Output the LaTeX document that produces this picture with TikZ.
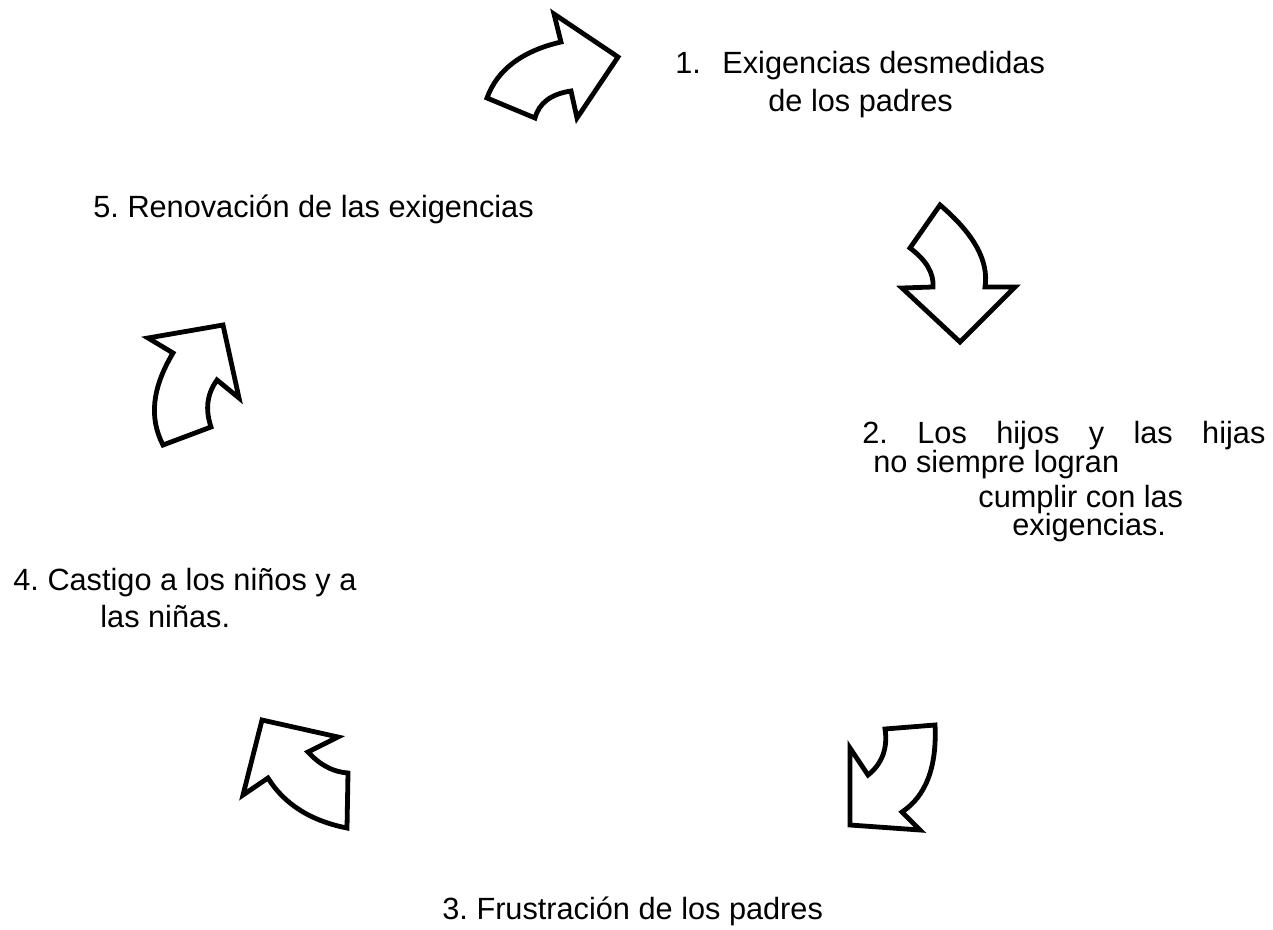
\documentclass[tikz,border=0pt]{standalone}
\usepackage{fontspec}
\setmainfont{Liberation Sans}
\frenchspacing
\begin{document}
\begin{tikzpicture}[x=0.5pt,y=-0.5pt,
  cyclearrow/.style={draw=black,line width=2.4pt,line join=miter,fill=white},
  lbl/.style={anchor=base west,inner sep=0pt,font=\fontsize{15.35}{18}\selectfont}]
\useasboundingbox (0,0) rectangle (1273,930);
% arrows
\draw[cyclearrow] (618,57) -- (554,14) -- (561,42) .. controls (522,51) and (497,70) .. (487,98) -- (535,118) .. controls (539,103) and (551,94) .. (571,91) -- (577,118) -- cycle;
\draw[cyclearrow] (985,287) .. controls (989,261) and (974,234) .. (940,205) -- (910,248) .. controls (926,260) and (934,273) .. (933,287) -- (902,288) -- (960,342) -- (1015,287) -- cycle;
\draw[cyclearrow] (868,775) .. controls (882,764) and (888,748) .. (885,729) -- (935,725) .. controls (937,767) and (926,796) .. (902,812) -- (920,830) -- (850,825) -- (850,748) -- cycle;
\draw[cyclearrow] (262,720) -- (338,737) -- (308,752) .. controls (320,765) and (333,772) .. (348,773) -- (347,828) .. controls (311,821) and (284,804) .. (268,778) -- (243,795) -- cycle;
\draw[cyclearrow] (148,338) -- (223,325) -- (239,398) -- (217,380) .. controls (207,394) and (205,409) .. (211,427) -- (163,445) .. controls (149,418) and (152,388) .. (173,353) -- cycle;
% labels
\node[lbl] (t1a) at (675,74) {1.\hspace*{10.7pt}Exigencias desmedidas};
\node[lbl] (t1b) at (768,112) {de los padres};
\node[lbl] (t2a) at (862,443) {\makebox[201.5pt][s]{2. Los hijos y las hijas}};
\node[lbl] (t2b) at (873,472) {no siempre logran};
\node[lbl] (t2c) at (978,507) {cumplir con las};
\node[lbl] (t2d) at (1012,535) {exigencias.};
\node[lbl] (t3) at (442,919) {3. Frustración de los padres};
\node[lbl] (t4a) at (13,590) {4. Castigo a los niños y a};
\node[lbl] (t4b) at (100,627) {las niñas.};
\node[lbl] (t5) at (93,218) {5. Renovación de las exigencias};
\end{tikzpicture}
\end{document}
